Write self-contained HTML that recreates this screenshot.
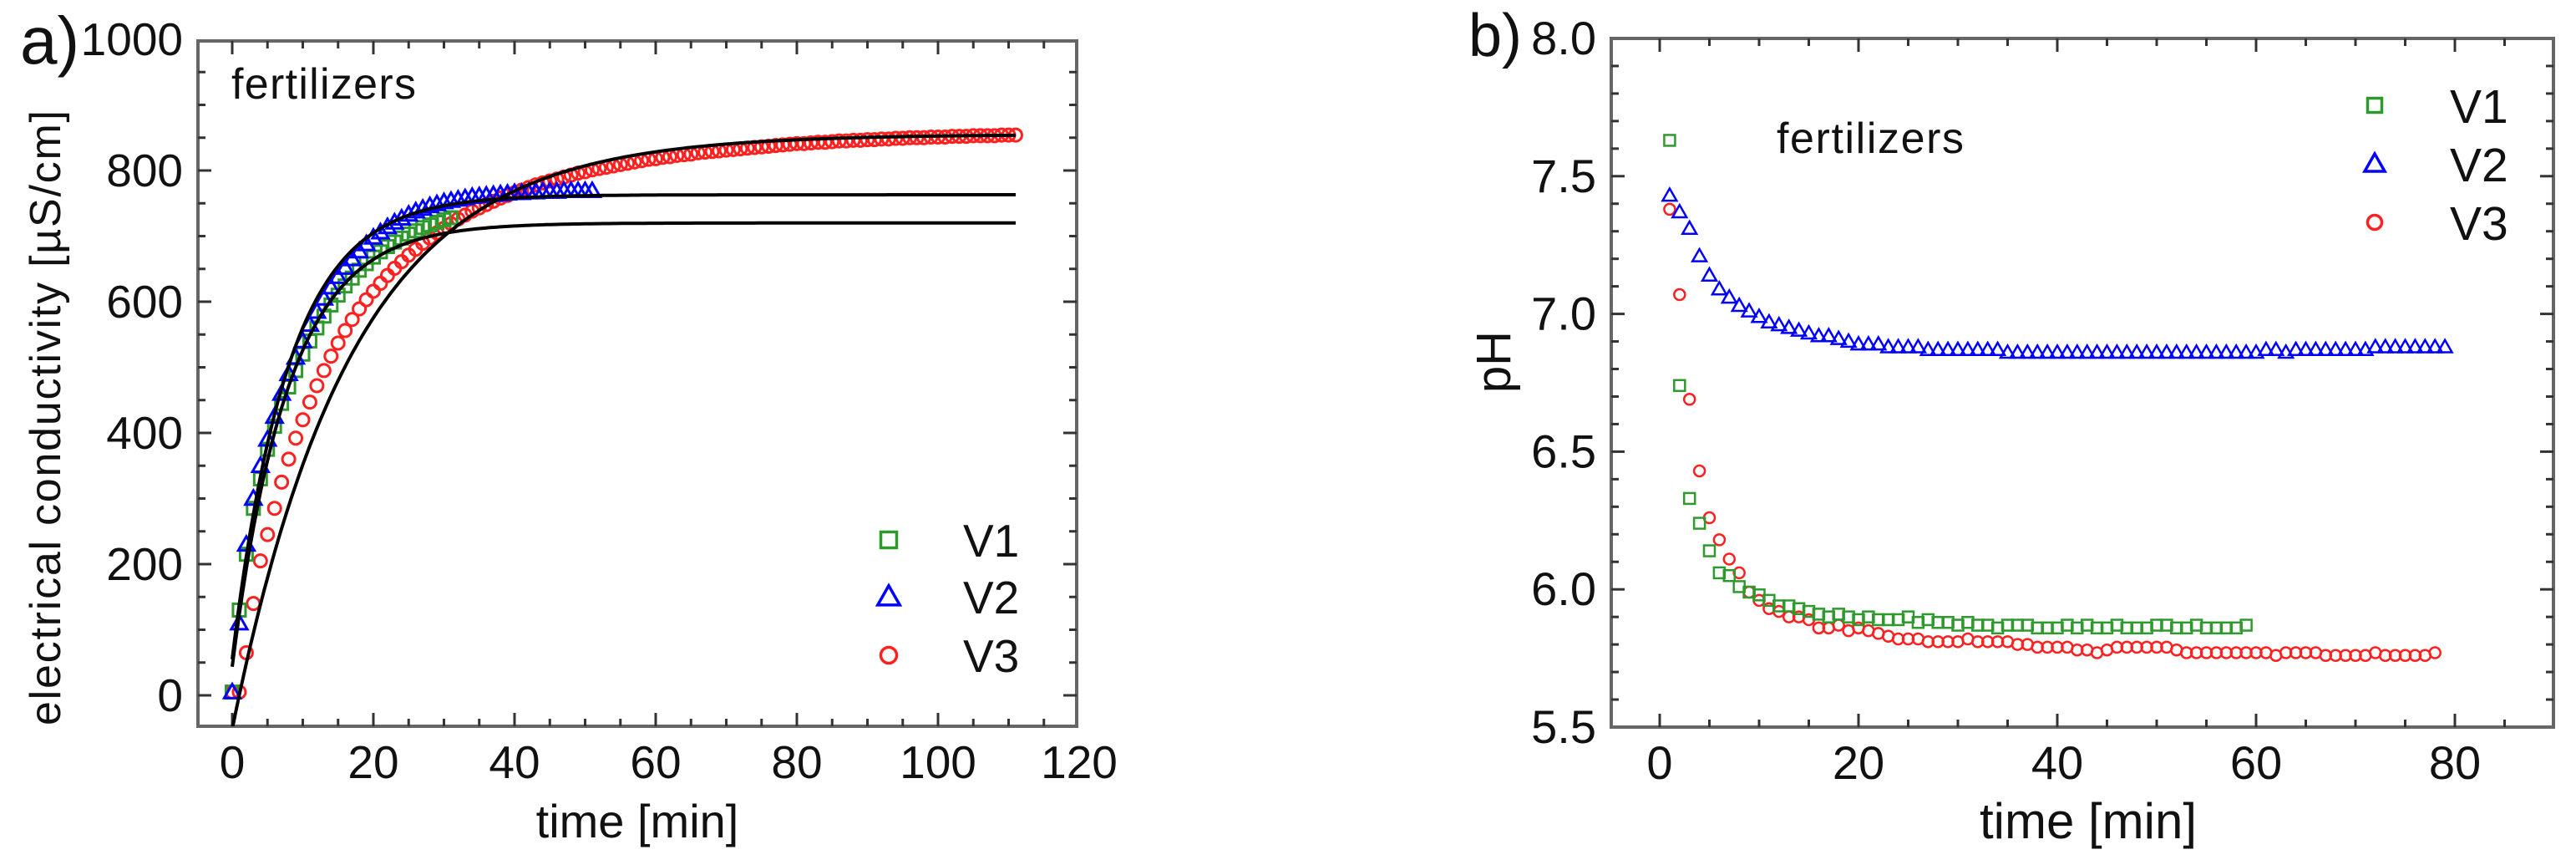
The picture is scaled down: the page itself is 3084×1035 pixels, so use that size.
<!DOCTYPE html>
<html><head><meta charset="utf-8">
<style>
html,body{margin:0;padding:0;background:#fff;}
svg{display:block;font-family:"Liberation Sans",Arial,sans-serif;}
</style></head>
<body>
<svg id="chart" width="3084" height="1035" viewBox="0 0 3084 1035" xmlns="http://www.w3.org/2000/svg">
<defs>
<clipPath id="clipA"><rect x="237" y="49" width="1052" height="820"/></clipPath>
<clipPath id="clipB"><rect x="1931" y="48" width="1124" height="820"/></clipPath>
</defs>
<g id="panelA"></g>
<g id="panelB"></g>
</svg>
<script>
// ---------- Panel a data ----------
const aTimeV1 = [0,1,2,3,4,5,6,7,8,9,10,11,12,13,14,15,16,17,18,19,20,21,22,23,24,25,26,27,28,29,30,31];
const aCondV1 = [5,130,215,285,330,375,410,445,470,495,520,540,560,578,595,610,624,636,648,658,668,676,684,691,697,703,708,713,717,721,725,728];
const aTimeV2 = [0,1,2,3,4,5,6,7,8,9,10,11,12,13,14,15,16,17,18,19,20,21,22,23,24,25,26,27,28,29,30,31,32,33,34,35,36,37,38,39,40,41,42,43,44,45,46,47,48,49,50,51];
const aCondV2 = [5,110,230,300,350,390,425,460,490,515,540,565,585,605,622,638,652,665,677,688,698,706,714,721,727,733,738,742,746,749,752,754,756,758,760,761,762,763,764,765,766,766,767,767,768,768,768,769,769,769,769,769];
const aCondV3 = [5,5,65,140,205,245,285,325,360,392,420,447,472,495,517,537,556,573,589,603,616,628,640,651,661,671,680,689,697,705,712,719,726,732,738,743,748,753,758,762,766,770,774,778,781,784,787,790,793,796,798,801,803,805,807,809,811,813,815,817,818,820,821,823,824,825,827,828,829,830,831,832,833,834,835,836,837,838,839,840,841,841,842,843,843,844,845,845,846,846,847,847,848,848,849,849,850,850,850,851,851,851,852,852,852,853,853,853,853,854,854,854];
const aTimeV3 = aCondV3.map((v,i)=>i);
// exponential fit parameters: [amplitude, tau, t0]
const fitV1 = [720, 8, -0.5];
const fitV2 = [763, 8, -0.6];
const fitV3 = [855, 17, 1.0];
const aXTicks = [0,20,40,60,80,100,120];
const aYTicks = [0,200,400,600,800,1000];

// ---------- Panel b data ----------
const bPhV1 = [7.63,6.74,6.33,6.24,6.14,6.06,6.05,6.01,5.99,5.98,5.96,5.94,5.94,5.93,5.92,5.91,5.90,5.91,5.90,5.89,5.90,5.89,5.89,5.89,5.90,5.88,5.89,5.88,5.88,5.87,5.88,5.87,5.87,5.86,5.87,5.87,5.87,5.86,5.86,5.86,5.87,5.86,5.87,5.86,5.86,5.87,5.86,5.86,5.86,5.87,5.87,5.86,5.86,5.87,5.86,5.86,5.86,5.86,5.87];
const bPhV2 = [7.43,7.37,7.31,7.21,7.14,7.09,7.06,7.03,7.01,6.99,6.97,6.96,6.95,6.94,6.93,6.92,6.92,6.91,6.90,6.89,6.89,6.89,6.88,6.88,6.88,6.88,6.87,6.87,6.87,6.87,6.87,6.87,6.87,6.87,6.86,6.86,6.86,6.86,6.86,6.86,6.86,6.86,6.86,6.86,6.86,6.86,6.86,6.86,6.86,6.86,6.86,6.86,6.86,6.86,6.86,6.86,6.86,6.86,6.86,6.86,6.87,6.87,6.86,6.87,6.87,6.87,6.87,6.87,6.87,6.87,6.87,6.88,6.88,6.88,6.88,6.88,6.88,6.88,6.88];
const bPhV3 = [7.38,7.07,6.69,6.43,6.26,6.18,6.11,6.06,5.99,5.96,5.93,5.92,5.90,5.90,5.89,5.86,5.86,5.87,5.85,5.86,5.85,5.84,5.83,5.82,5.82,5.82,5.81,5.81,5.81,5.81,5.82,5.81,5.81,5.81,5.81,5.80,5.80,5.79,5.79,5.79,5.79,5.78,5.78,5.77,5.78,5.79,5.79,5.79,5.79,5.79,5.79,5.78,5.77,5.77,5.77,5.77,5.77,5.77,5.77,5.77,5.77,5.76,5.77,5.77,5.77,5.77,5.76,5.76,5.76,5.76,5.76,5.77,5.76,5.76,5.76,5.76,5.76,5.77];
const bTimeV1 = bPhV1.map((v,i)=>i+1);
const bTimeV2 = bPhV2.map((v,i)=>i+1);
const bTimeV3 = bPhV3.map((v,i)=>i+1);
const bXTicks = [0,20,40,60,80];
const bYTicks = ["5.5","6.0","6.5","7.0","7.5","8.0"];
const seriesNames = ["V1","V2","V3"];

const NS = "http://www.w3.org/2000/svg";
function mk(tag, attrs, parent){
  const e = document.createElementNS(NS, tag);
  for (const k in attrs) e.setAttribute(k, attrs[k]);
  parent.appendChild(e);
  return e;
}
const GREEN="#2e9a2e", BLUE="#0000ff", RED="#ff2020", FRAME="#666666";

function marker(g, kind, cx, cy, s, color, sw){
  let m;
  if (kind==="sq") m = mk("rect",{x:cx-s/2,y:cy-s/2,width:s,height:s,fill:"none",stroke:color,"stroke-width":sw},g);
  else if (kind==="tri") m = mk("polygon",{points:`${cx},${cy-s*0.6} ${cx-s*0.6},${cy+s*0.45} ${cx+s*0.6},${cy+s*0.45}`,fill:"none",stroke:color,"stroke-width":sw},g);
  else m = mk("circle",{cx:cx,cy:cy,r:s/2,fill:"none",stroke:color,"stroke-width":sw},g);
  return m;
}

function axes(g, L, R, T, B, sx, sy, xMajor, xMinorStep, xMin, xMax, yMajorVals, yMajorLabels, yMinorStep, yMin, yMax, fs){
  const frame = mk("rect",{x:L,y:T,width:R-L,height:B-T,fill:"none",stroke:FRAME,"stroke-width":4},g);
  
  
  const tg = mk("g",{stroke:"#333","stroke-width":3},g);
  
  
  for (let v=Math.ceil(xMin/xMinorStep)*xMinorStep; v<=xMax+1e-9; v+=xMinorStep){
    const x = sx(v); if (x<=L+2||x>=R-2) continue;
    const major = xMajor.some(t=>Math.abs(t-v)<1e-6);
    const len = major?16:9;
    mk("line",{x1:x,y1:B,x2:x,y2:B-len},tg);
    mk("line",{x1:x,y1:T,x2:x,y2:T+len},tg);
  }
  for (let v=yMin; v<=yMax+1e-9; v+=yMinorStep){
    const y = sy(v); if (y<=T+2||y>=B-2) continue;
    const major = yMajorVals.some(t=>Math.abs(t-v)<1e-6);
    const len = major?16:9;
    mk("line",{x1:L,y1:y,x2:L+len,y2:y},tg);
    mk("line",{x1:R,y1:y,x2:R-len,y2:y},tg);
  }
  xMajor.forEach(v=>{
    const t = mk("text",{x:sx(v),y:B+62,"text-anchor":"middle","font-size":fs,fill:"#111"},g);
    t.textContent = String(v);
    
    
  });
  yMajorVals.forEach((v,i)=>{
    const t = mk("text",{x:L-18,y:sy(v)+19,"text-anchor":"end","font-size":fs,fill:"#111"},g);
    t.textContent = yMajorLabels[i];
    
    
  });
}

// ---------- Panel a ----------
(function(){
  const g = document.getElementById("panelA");
  const L=237,R=1289,T=49,B=869;
  const sx = v => 278 + (v-0)*(1292-278)/120;
  const sy = v => 832 - v*0.785;
  axes(g,L,R,T,B,sx,sy,aXTicks,5,-5,120,aYTicks,aYTicks.map(String),50,-50,1000,55);
  const plot = mk("g",{"clip-path":"url(#clipA)"},g);
  
  
  const series = [[aTimeV1,aCondV1,"sq",GREEN],[aTimeV2,aCondV2,"tri",BLUE],[aTimeV3,aCondV3,"circ",RED]];
  const mg = mk("g",{},plot);
  
  
  [2,0,1].forEach(si=>{
    const [ts,vs,kind,col] = series[si];
    const sg = mk("g",{},mg);
    
    
    ts.forEach((t,i)=>{
      const m = marker(sg,kind,sx(t),sy(vs[i]),kind==="tri"?16:15,col,3);
      
      
    });
  });
  [fitV1,fitV2,fitV3].forEach((p,fi)=>{
    let d="";
    for (let t=0;t<=111;t+=0.5){
      const y = p[0]*(1-Math.exp(-(t-p[2])/p[1]));
      d += (d?"L":"M")+sx(t).toFixed(1)+","+sy(y).toFixed(1);
    }
    const path = mk("path",{d:d,fill:"none",stroke:"#000","stroke-width":4},plot);
    
    
  });
  const ft = mk("text",{x:277,y:118,"font-size":52,fill:"#111",textLength:221},g);
  ft.textContent="fertilizers";
  
  
  const lbl = mk("text",{x:24,y:76,"font-size":80,fill:"#111"},g);
  lbl.textContent="a)";
  
  
  const xt = mk("text",{x:763,y:1002,"text-anchor":"middle","font-size":56,fill:"#111"},g);
  xt.textContent="time [min]";
  
  
  const yt = mk("text",{x:0,y:0,"text-anchor":"middle","font-size":52,fill:"#111",textLength:736,transform:"translate(72,500) rotate(-90)"},g);
  yt.textContent="electrical conductivity [\u00B5S/cm]";
  
  
  const kinds=["sq","tri","circ"], cols=[GREEN,BLUE,RED], ly=[646,714,784];
  seriesNames.forEach((n,i)=>{
    const le = mk("g",{},g);
    
    
    marker(le,kinds[i],1064,ly[i],i===1?22:19,cols[i],3.5);
    const t = mk("text",{x:1153,y:ly[i]+20,"font-size":55,fill:"#111"},le);
    t.textContent=n;
  });
})();

// ---------- Panel b ----------
(function(){
  const g = document.getElementById("panelB");
  const L=1929,R=3057,T=46,B=870;
  const sx = v => 1987 + v*(2939-1987)/80;
  const sy = v => 870 - (v-5.5)*(824/2.5);
  axes(g,L,R,T,B,sx,sy,bXTicks,5,-5,90,bYTicks.map(Number),bYTicks,0.1,5.5,8.0,56);
  const plot = mk("g",{"clip-path":"url(#clipB)"},g);
  
  
  const series = [[bTimeV1,bPhV1,"sq",GREEN],[bTimeV2,bPhV2,"tri",BLUE],[bTimeV3,bPhV3,"circ",RED]];
  [2,0,1].forEach(si=>{
    const [ts,vs,kind,col] = series[si];
    const sg = mk("g",{},plot);
    
    
    ts.forEach((t,i)=>{
      const m = marker(sg,kind,sx(t),sy(vs[i]),kind==="tri"?14:13,col,2.5);
      
      
    });
  });
  const ft = mk("text",{x:2127,y:183,"font-size":52,fill:"#111",textLength:224},g);
  ft.textContent="fertilizers";
  
  
  const lbl = mk("text",{x:1758,y:67,"font-size":72,fill:"#111"},g);
  lbl.textContent="b)";
  
  
  const xt = mk("text",{x:2500,y:1003,"text-anchor":"middle","font-size":60,fill:"#111"},g);
  xt.textContent="time [min]";
  
  
  const yt = mk("text",{x:0,y:0,"text-anchor":"middle","font-size":58,fill:"#111",transform:"translate(1808,433) rotate(-90)"},g);
  yt.textContent="pH";
  
  
  const kinds=["sq","tri","circ"], cols=[GREEN,BLUE,RED], ly=[126,196,266];
  seriesNames.forEach((n,i)=>{
    const le = mk("g",{},g);
    
    
    marker(le,kinds[i],2843,ly[i],i===1?20:17,cols[i],3.5);
    const t = mk("text",{x:2933,y:ly[i]+21,"font-size":57,fill:"#111"},le);
    t.textContent=n;
  });
})();
</script>
</body></html>
